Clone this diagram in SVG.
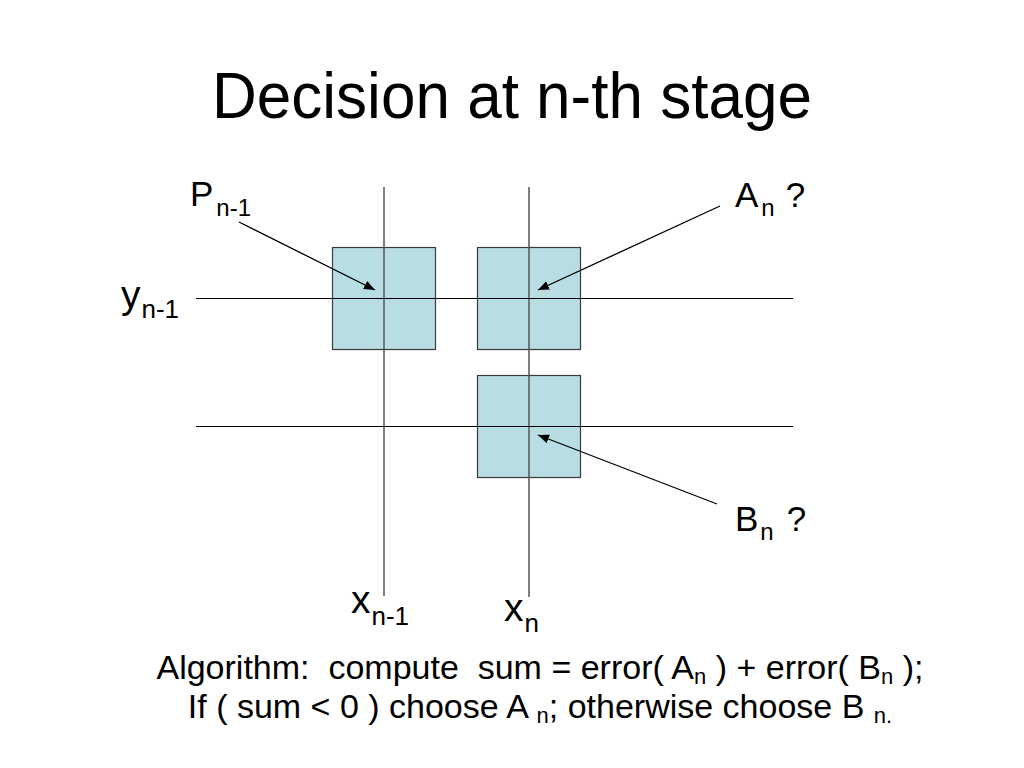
<svg xmlns="http://www.w3.org/2000/svg" width="1024" height="768" viewBox="0 0 1024 768">
<style>
text{font-family:"Liberation Sans",Arial,sans-serif;fill:#000;white-space:pre}
.box{fill:#b8dde2;stroke:#3a3a3a;stroke-width:1.2}
.vl{stroke:#555;stroke-width:1.5}
.hl{stroke:#000;stroke-width:1.2}
.arr{stroke:#000;stroke-width:1.3;marker-end:url(#ah)}
.lbl{font-size:35px}
.sub{font-size:24px}
.ax{font-size:39px}
.axs{font-size:26px}
.alg{font-size:34px}
.algs{font-size:22px}
</style>
<defs>
<marker id="ah" markerWidth="12" markerHeight="10" refX="11" refY="4.5" orient="auto" markerUnits="userSpaceOnUse">
<path d="M0,0 L11,4.5 L0,9 Z" fill="#000"/>
</marker>
</defs>
<rect width="1024" height="768" fill="#fff"/>
<text id="title" x="512" y="118" font-size="65" text-anchor="middle" textLength="600" lengthAdjust="spacingAndGlyphs">Decision at n-th stage</text>
<g id="box-p"><rect class="box" x="332.5" y="247.5" width="103" height="102"/></g>
<g id="box-a"><rect class="box" x="477.5" y="247.5" width="103" height="102"/></g>
<g id="box-b"><rect class="box" x="477.5" y="375.5" width="103" height="102"/></g>
<g id="grid">
<line class="vl" x1="384" y1="187" x2="384" y2="596"/>
<line class="vl" x1="529" y1="187" x2="529" y2="597"/>
<line class="hl" x1="196" y1="298.5" x2="793" y2="298.5"/>
<line class="hl" x1="196" y1="426.5" x2="793" y2="426.5"/>
</g>
<g id="connectors">
<line class="arr" x1="239" y1="222" x2="375" y2="290"/>
<line class="arr" x1="720" y1="206" x2="538" y2="290"/>
<line class="arr" x1="717" y1="504" x2="538" y2="435"/>
</g>
<g id="label-p"><text x="190" y="206" class="lbl">P<tspan class="sub" dx="3" dy="10">n-1</tspan></text></g>
<g id="label-a"><text x="735" y="207" class="lbl">A<tspan class="sub" dx="3" dy="9">n</tspan><tspan dx="11" dy="-9">?</tspan></text></g>
<g id="label-b"><text x="735" y="531" class="lbl">B<tspan class="sub" dx="2" dy="9">n</tspan><tspan dx="13" dy="-9">?</tspan></text></g>
<g id="label-y"><text x="121" y="308" class="ax">y<tspan class="axs" dx="1" dy="10">n-1</tspan></text></g>
<g id="label-xn1"><text x="351" y="613" class="ax">x<tspan class="axs" dx="1" dy="12">n-1</tspan></text></g>
<g id="label-xn"><text x="504" y="621" class="ax">x<tspan class="axs" dx="1" dy="11">n</tspan></text></g>
<g id="algorithm">
<text x="540" y="679" class="alg" text-anchor="middle">Algorithm:  compute  sum = error( A<tspan class="algs" dy="5">n</tspan><tspan dy="-5"> ) + error( B</tspan><tspan class="algs" dy="5">n</tspan><tspan dy="-5"> );</tspan></text>
<text x="540" y="718" class="alg" text-anchor="middle">If ( sum &lt; 0 ) choose A <tspan class="algs" dy="5">n</tspan><tspan dy="-5">; otherwise choose B </tspan><tspan class="algs" dy="5">n.</tspan></text>
</g>
</svg>
